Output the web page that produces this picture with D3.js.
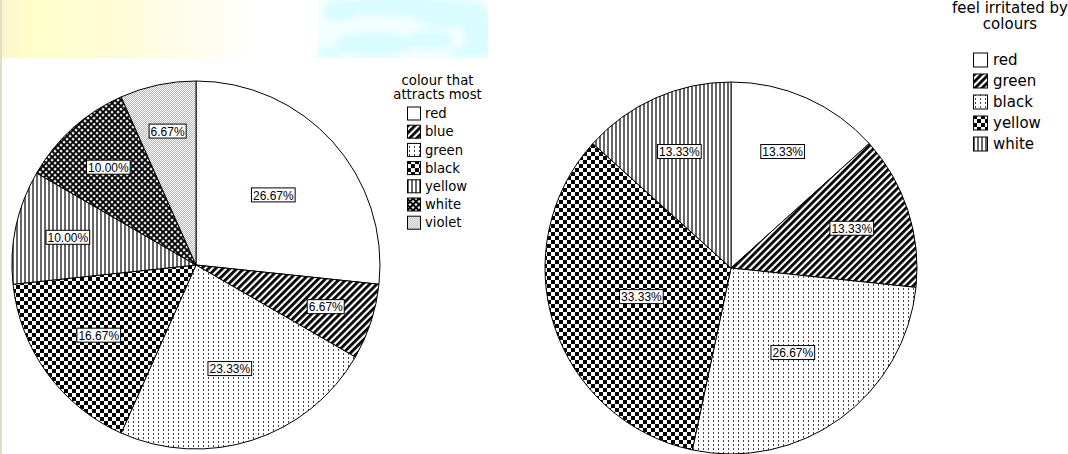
<!DOCTYPE html>
<html>
<head>
<meta charset="utf-8">
<script src="https://cdn.jsdelivr.net/npm/d3@7"></script>
<style>
  html, body { margin: 0; padding: 0; background: #fff; }
  svg { display: block; font-family: "Liberation Sans", Arial, sans-serif; }
</style>
</head>
<body>
<svg id="chart" width="1068" height="454"></svg>
<script>
// Survey results: colour that attracts most / colour that irritates
const attractTitle = ["colour that", "attracts most"];
const attractCategories = ["red", "blue", "green", "black", "yellow", "white", "violet"];
const attractPercents = [26.67, 6.67, 23.33, 16.67, 10.00, 10.00, 6.67];

const irritateTitle = ["feel irritated by", "colours"];
const irritateCategories = ["red", "green", "black", "yellow", "white"];
const irritatePercents = [13.33, 13.33, 26.67, 33.33, 13.33];

// fill patterns are handed out in category order, as the stats package does
const patternOrder = ["p-blank", "p-diag", "p-dots", "p-check", "p-vline", "p-diamond", "p-stipple"];

const svg = d3.select("#chart");
const defs = svg.append("defs");

// ---- slide background decoration ----
const yg = defs.append("linearGradient").attr("id", "bg-yellow").attr("x1", 0).attr("x2", 1).attr("y1", 0).attr("y2", 0);
yg.append("stop").attr("offset", 0).attr("stop-color", "#fbf3cf");
yg.append("stop").attr("offset", 0.12).attr("stop-color", "#ffffc9");
yg.append("stop").attr("offset", 0.5).attr("stop-color", "#fffbdc");
yg.append("stop").attr("offset", 1).attr("stop-color", "#ffffff");
defs.append("filter").attr("id", "soft").attr("x", "-30%").attr("y", "-30%").attr("width", "160%").attr("height", "160%")
  .append("feGaussianBlur").attr("stdDeviation", 3);
defs.append("clipPath").attr("id", "band").append("rect").attr("x", 300).attr("y", 0).attr("width", 188).attr("height", 58);

const bg = svg.append("g");
bg.append("rect").attr("x", 0).attr("y", 0).attr("width", 265).attr("height", 58).attr("fill", "url(#bg-yellow)");
const cyan = bg.append("g").attr("clip-path", "url(#band)");
cyan.append("rect").attr("x", 318).attr("y", 0).attr("width", 170).attr("height", 58).attr("fill", "#f3feff");
const blobs = cyan.append("g").attr("filter", "url(#soft)");
[[395, 6, 70, 10], [450, 14, 40, 14], [478, 30, 14, 26], [375, 44, 40, 12], [430, 40, 22, 10],
 [340, 14, 16, 8], [470, 52, 22, 6], [330, 52, 14, 5]]
  .forEach(([cx, cy, rx, ry]) => blobs.append("ellipse").attr("cx", cx).attr("cy", cy).attr("rx", rx).attr("ry", ry).attr("fill", "#d9fcff"));
bg.append("rect").attr("x", 0).attr("y", 0).attr("width", 2).attr("height", 454).attr("fill", "#e6dcc4");

// ---- hatch patterns ----
function pat(id, w, h, transform) {
  const p = defs.append("pattern").attr("id", id).attr("patternUnits", "userSpaceOnUse")
    .attr("width", w).attr("height", h);
  if (transform) p.attr("patternTransform", transform);
  p.append("rect").attr("width", w).attr("height", h).attr("fill", "#fff");
  return p;
}
pat("p-blank", 4, 4);
pat("p-diag", 5, 5, "rotate(45)").append("rect").attr("width", 2.8).attr("height", 5).attr("fill", "#000");
const dots = pat("p-dots", 5, 4);
dots.append("rect").attr("x", 2).attr("y", 0).attr("width", 1).attr("height", 2).attr("fill", "#444");
const chk = pat("p-check", 8, 8);
chk.append("rect").attr("x", 0).attr("y", 0).attr("width", 4).attr("height", 4).attr("fill", "#000");
chk.append("rect").attr("x", 4).attr("y", 4).attr("width", 4).attr("height", 4).attr("fill", "#000");
pat("p-vline", 4, 4).append("rect").attr("x", 0).attr("width", 2).attr("height", 4).attr("fill", "#666");
const dia = pat("p-diamond", 4.24, 4.24, "rotate(45)");
dia.append("rect").attr("width", 4.24).attr("height", 4.24).attr("fill", "#000");
dia.append("rect").attr("x", 1).attr("y", 1).attr("width", 2.3).attr("height", 2.3).attr("fill", "#fff");
const stp = pat("p-stipple", 2, 2);
stp.append("rect").attr("x", 0).attr("y", 0).attr("width", 1).attr("height", 1).attr("fill", "#b4b4b4");
stp.append("rect").attr("x", 1).attr("y", 1).attr("width", 1).attr("height", 1).attr("fill", "#b4b4b4");

// ---- pie chart with boxed percentage labels ----
function drawPie(values, cx, cy, r) {
  const pie = d3.pie().sort(null).value(d => d);
  const arc = d3.arc().innerRadius(0).outerRadius(r);
  const total = d3.sum(values);
  const g = svg.append("g").attr("transform", `translate(${cx},${cy})`);
  const slices = pie(values);
  g.selectAll("path.slice").data(slices).join("path")
    .attr("class", "slice")
    .attr("d", arc)
    .attr("fill", (d, i) => `url(#${patternOrder[i]})`)
    .attr("stroke", "#000").attr("stroke-width", 1).attr("stroke-linejoin", "round");

  const labels = g.selectAll("g.lab").data(slices).join("g").attr("class", "lab")
    .attr("transform", d => {
      const a = (d.startAngle + d.endAngle) / 2;
      const k = 0.80 - 0.88 * (d.value / total);   // small slices push labels outward
      return `translate(${Math.sin(a) * r * k},${-Math.cos(a) * r * k})`;
    });
  labels.append("rect").attr("fill", "#fff").attr("stroke", "#000").attr("stroke-width", 1);
  labels.append("text").attr("text-anchor", "middle").attr("dy", "0.36em")
    .attr("font-size", 12).attr("fill", "#000")
    .text(d => d.value.toFixed(2) + "%");
  labels.each(function () {
    const t = d3.select(this).select("text").node();
    const w = t.getComputedTextLength();
    d3.select(this).select("rect")
      .attr("x", -w / 2 - 1.5).attr("y", -7.5).attr("width", w + 3).attr("height", 14);
  });
}

// ---- legend: centred title, then swatch + name rows ----
function drawLegend(title, names, o) {
  const g = svg.append("g").attr("font-family", "'DejaVu Sans', sans-serif");
  g.selectAll("text.title").data(title).join("text").attr("class", "title")
    .attr("x", o.cx).attr("y", (d, i) => o.titleY + i * o.titleStep)
    .attr("text-anchor", "middle").attr("font-size", o.fs).attr("fill", "#000").text(d => d);
  const rows = g.selectAll("g.row").data(names).join("g").attr("class", "row")
    .attr("transform", (d, i) => `translate(${o.sx},${o.rowY + i * o.rowStep})`);
  rows.append("rect").attr("x", 0.5).attr("y", -o.sw / 2 + 0.5).attr("width", o.sw - 1).attr("height", o.sw - 1)
    .attr("fill", (d, i) => `url(#${patternOrder[i]})`).attr("stroke", "#000").attr("stroke-width", 1);
  rows.append("text").attr("x", o.tx).attr("dy", "0.36em").attr("font-size", o.fs).attr("fill", "#000").text(d => d);
}

drawPie(attractPercents, 196, 265, 184);
drawPie(irritatePercents, 731, 268, 186);

drawLegend(attractTitle, attractCategories,
  { cx: 437.5, titleY: 85, titleStep: 14, fs: 13.2, sx: 407, rowY: 113.5, rowStep: 18.2, sw: 14, tx: 18 });
drawLegend(irritateTitle, irritateCategories,
  { cx: 1010, titleY: 12.5, titleStep: 16.5, fs: 15, sx: 973, rowY: 60, rowStep: 21, sw: 15, tx: 20 });
</script>
</body>
</html>
